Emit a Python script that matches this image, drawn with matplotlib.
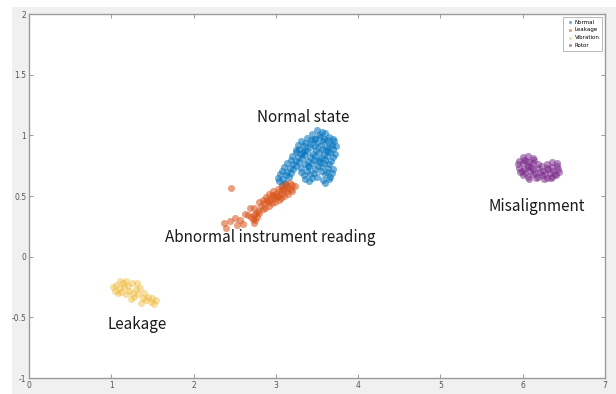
import matplotlib.pyplot as plt
from matplotlib.patches import Rectangle

# cluster coordinates (feature 1, feature 2)
normal_x = [3.50, 3.56, 3.44, 3.52, 3.60, 3.64, 3.38, 3.46, 3.54, 3.62, 3.69,
            3.30, 3.36, 3.43, 3.50, 3.57, 3.64, 3.71, 3.27, 3.34, 3.41, 3.48,
            3.55, 3.62, 3.68, 3.73, 3.28, 3.35, 3.42, 3.49, 3.56, 3.63, 3.70,
            3.24, 3.31, 3.38, 3.45, 3.52, 3.59, 3.66, 3.72, 3.20, 3.27, 3.34,
            3.41, 3.48, 3.55, 3.62, 3.69, 3.18, 3.25, 3.32, 3.39, 3.46, 3.53,
            3.60, 3.67, 3.14, 3.21, 3.28, 3.35, 3.44, 3.51, 3.58, 3.65, 3.10,
            3.17, 3.24, 3.31, 3.40, 3.48, 3.56, 3.63, 3.70, 3.07, 3.14, 3.21,
            3.30, 3.38, 3.46, 3.55, 3.62, 3.68, 3.05, 3.12, 3.19, 3.34, 3.42,
            3.50, 3.60, 3.66, 3.02, 3.09, 3.16, 3.36, 3.44, 3.57, 3.64, 3.04,
            3.11, 3.40, 3.60, 3.07, 3.47, 3.58, 3.33, 3.53, 3.39, 3.61, 3.25]
normal_y = [1.04, 1.03, 1.01, 1.00, 1.02, 0.99, 0.98, 0.97, 0.99, 0.96, 0.97,
            0.95, 0.94, 0.96, 0.94, 0.95, 0.93, 0.95, 0.92, 0.91, 0.93, 0.91,
            0.92, 0.90, 0.92, 0.91, 0.89, 0.88, 0.90, 0.88, 0.89, 0.87, 0.89,
            0.86, 0.85, 0.87, 0.85, 0.86, 0.84, 0.86, 0.85, 0.83, 0.82, 0.84,
            0.82, 0.83, 0.81, 0.83, 0.82, 0.80, 0.79, 0.81, 0.79, 0.80, 0.78,
            0.80, 0.79, 0.77, 0.76, 0.78, 0.76, 0.77, 0.75, 0.77, 0.76, 0.74,
            0.73, 0.75, 0.73, 0.74, 0.72, 0.74, 0.73, 0.72, 0.71, 0.70, 0.72,
            0.70, 0.71, 0.69, 0.71, 0.70, 0.69, 0.68, 0.67, 0.69, 0.67, 0.68,
            0.66, 0.68, 0.66, 0.65, 0.64, 0.66, 0.64, 0.65, 0.63, 0.64, 0.62,
            0.61, 0.62, 0.61, 0.59, 0.97, 0.97, 0.86, 0.80, 0.75, 0.88, 0.88]

leakage_x = [2.82, 2.86, 2.84, 2.90, 2.88, 2.93, 2.95, 2.92, 2.98, 3.00, 2.97,
             3.03, 3.05, 3.02, 3.08, 3.10, 3.07, 3.13, 3.15, 3.12, 3.18, 3.20,
             3.17, 3.23, 2.99, 3.04, 2.87, 2.92, 3.10, 2.95, 3.06, 3.15, 3.20,
             2.80, 2.84, 2.78, 2.76, 2.80, 2.74, 2.72, 2.75, 2.70, 2.73, 2.77,
             2.46, 2.37, 2.44, 2.50, 2.57, 2.62, 2.66, 2.68, 2.74, 2.60, 2.40,
             2.53, 2.89, 3.01, 3.12, 2.96, 3.08]
leakage_y = [0.42, 0.44, 0.47, 0.45, 0.49, 0.47, 0.50, 0.52, 0.48, 0.52, 0.54,
             0.50, 0.54, 0.56, 0.52, 0.56, 0.58, 0.54, 0.57, 0.60, 0.56, 0.59,
             0.61, 0.58, 0.45, 0.47, 0.40, 0.42, 0.50, 0.44, 0.48, 0.52, 0.54,
             0.45, 0.39, 0.38, 0.36, 0.36, 0.34, 0.31, 0.30, 0.33, 0.28, 0.33,
             0.57, 0.28, 0.29, 0.32, 0.30, 0.35, 0.34, 0.40, 0.40, 0.27, 0.24,
             0.26, 0.47, 0.49, 0.58, 0.51, 0.55]

vibration_x = [1.02, 1.06, 1.10, 1.14, 1.18, 1.12, 1.08, 1.16, 1.20, 1.22,
               1.25, 1.18, 1.26, 1.30, 1.28, 1.33, 1.35, 1.38, 1.40, 1.42,
               1.45, 1.48, 1.50, 1.52, 1.54, 1.36, 1.24, 1.04, 1.11, 1.31]
vibration_y = [-0.25, -0.23, -0.26, -0.22, -0.20, -0.29, -0.30, -0.25, -0.24,
               -0.28, -0.22, -0.31, -0.30, -0.27, -0.33, -0.31, -0.26, -0.34,
               -0.30, -0.36, -0.33, -0.37, -0.34, -0.39, -0.36, -0.38, -0.35,
               -0.28, -0.20, -0.22]

rotor_x = [6.00, 6.06, 6.12, 5.96, 6.02, 6.08, 6.14, 6.36, 6.42, 5.94, 6.00,
           6.06, 6.12, 6.18, 6.24, 6.30, 6.36, 6.42, 5.95, 6.01, 6.07, 6.13,
           6.19, 6.25, 6.31, 6.37, 6.43, 5.97, 6.03, 6.09, 6.15, 6.21, 6.27,
           6.33, 6.39, 6.44, 6.00, 6.06, 6.12, 6.18, 6.24, 6.30, 6.36, 6.41,
           6.08, 6.16, 6.26, 6.34, 6.04, 6.10, 5.99, 6.29]
rotor_y = [0.82, 0.83, 0.81, 0.79, 0.80, 0.78, 0.80, 0.78, 0.77, 0.76, 0.77,
           0.75, 0.77, 0.76, 0.75, 0.76, 0.74, 0.75, 0.73, 0.72, 0.74, 0.72,
           0.73, 0.71, 0.72, 0.71, 0.72, 0.70, 0.69, 0.71, 0.69, 0.70, 0.68,
           0.69, 0.68, 0.70, 0.67, 0.66, 0.68, 0.66, 0.67, 0.65, 0.66, 0.67,
           0.64, 0.65, 0.64, 0.65, 0.79, 0.74, 0.71, 0.73]

series = [
    ("Normal", normal_x, normal_y, "#0072BD", 0.55),
    ("Leakage", leakage_x, leakage_y, "#D95319", 0.55),
    ("Vibration", vibration_x, vibration_y, "#EDB120", 0.4),
    ("Rotor", rotor_x, rotor_y, "#7E2F8E", 0.55),
]

annotations = [
    ("Normal state", 3.33, 1.15),
    ("Abnormal instrument reading", 2.93, 0.16),
    ("Misalignment", 6.17, 0.41),
    ("Leakage", 1.32, -0.56),
]

fig = plt.figure(figsize=(6.16, 3.94), dpi=100)
fig.patch.set_facecolor("white")
# grey window background behind the axes
fig.patches.append(Rectangle((12 / 616, 0), 1, 1 - 7 / 394, transform=fig.transFigure,
                             facecolor="#f0f0f0", edgecolor="none", zorder=-1))

ax = fig.add_axes([29 / 616, 16 / 394, 576 / 616, 364 / 394])
ax.set_facecolor("white")

for name, xs, ys, col, a in series:
    ax.scatter(xs, ys, s=26, c=col, alpha=a, linewidths=0, label=name)

for txt, x, y in annotations:
    ax.text(x, y, txt, ha="center", va="center", fontsize=11,
            family="Noto Sans CJK KR", color="#1a1a1a")

ax.set_xlim(0, 7)
ax.set_ylim(-1, 2)
ax.set_xticks(range(0, 8))
ax.set_yticks([-1, -0.5, 0, 0.5, 1, 1.5, 2])
ax.set_yticklabels(["-1", "-0.5", "0", "0.5", "1", "1.5", "2"])
ax.tick_params(direction="in", length=3, width=0.6, labelsize=5.5,
               colors="#8a8a8a", labelcolor="#555555", top=True, right=True, pad=2)
for sp in ax.spines.values():
    sp.set_color("#9a9a9a")
    sp.set_linewidth(1.0)

leg = ax.legend(loc="upper right", fontsize=4, markerscale=0.45, frameon=True,
                fancybox=False, edgecolor="#9a9a9a", handletextpad=0.3,
                borderpad=0.5, labelspacing=0.5, handlelength=1.2)
leg.get_frame().set_linewidth(0.6)

plt.savefig("out.png", dpi=100)
plt.close()
